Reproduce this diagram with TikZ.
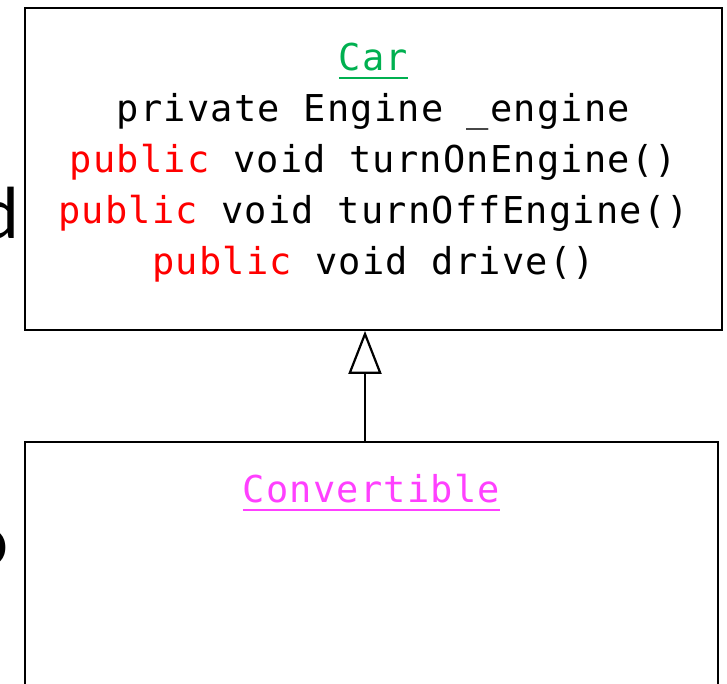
\documentclass[tikz,border=0pt]{standalone}
\usepackage{fontspec}
\setmonofont[LetterSpace=3.3]{DejaVu Sans Mono}
\newfontfamily\slidefont{Carlito}
\usetikzlibrary{arrows.meta}

\definecolor{kwred}{HTML}{FF0000}
\definecolor{clsgreen}{HTML}{00B050}
\definecolor{clspink}{HTML}{FF40FF}

% underlined class name, rule in the current colour
\newcommand{\uline}[1]{\leavevmode\setbox0\hbox{#1}\rlap{\rule[-8pt]{\wd0}{2pt}}\box0}
\newcommand{\kw}[1]{\textcolor{kwred}{#1}}

\begin{document}
\begin{tikzpicture}[
    x=1pt, y=-1pt,
    umlbox/.style  = {draw, line width=1.8pt, inner sep=0pt},
    members/.style = {font=\ttfamily\fontsize{37}{51}\selectfont,
                      align=center, inner sep=0pt, anchor=north},
    inherit/.style = {line width=1.1pt,
                      -{Triangle[open, length=43pt, width=33pt, line width=2.2pt]}},
    side/.style    = {font=\slidefont\fontsize{74}{80}\selectfont,
                      inner sep=0pt, anchor=base east}
  ]
  \useasboundingbox (0,0) rectangle (727,683);
  \clip (0,0) rectangle (727,683);

  %–––– base class ––––
  \node[umlbox, minimum width=697pt, minimum height=322pt] (car) at (373.5,169) {};
  \node[members] (carmembers) at ([yshift=-36pt]car.north) {%
    \textcolor{clsgreen}{\uline{Car}}\\
    private Engine \_engine\\
    \kw{public} void turnOnEngine()\\
    \kw{public} void turnOffEngine()\\
    \kw{public} void drive()};

  %–––– sub class ––––
  \node[umlbox, minimum width=693pt, minimum height=300pt] (conv) at (371.5,592) {};
  \node[members] (convmembers) at ([yshift=-33pt]conv.north)
    {\textcolor{clspink}{\uline{Convertible}}};

  %–––– generalisation ––––
  \draw[inherit] ([xshift=-6.5pt]conv.north) -- ([xshift=-6.5pt]conv.north |- car.south);

  % slide text running in from the left
  \node[side] (leftd) at (19.5,238) {d};
  \node[side] (lefto) at (8.7,565) {o};

\end{tikzpicture}
\end{document}
